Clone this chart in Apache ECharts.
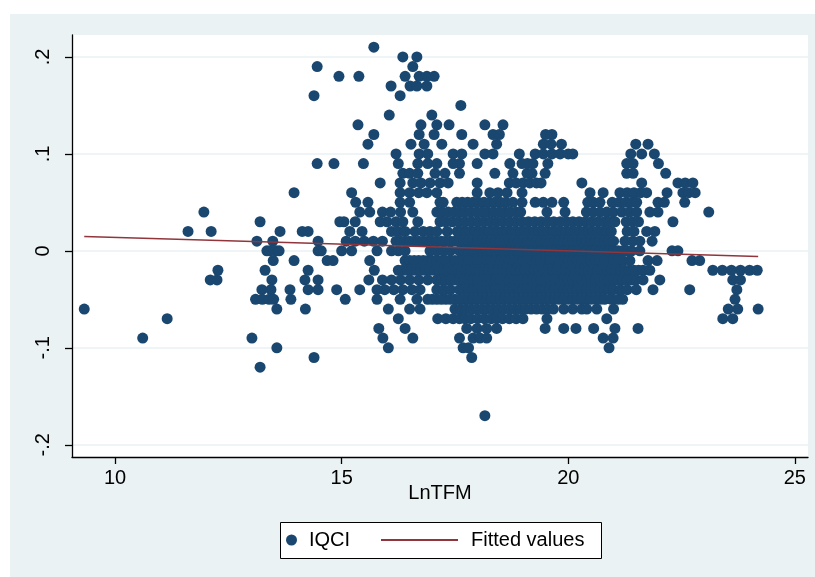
<!DOCTYPE html>
<html>
<head>
<meta charset="utf-8">
<script src="https://cdn.jsdelivr.net/npm/echarts@6/dist/echarts.min.js"></script>
<style>
html, body { margin: 0; padding: 0; background: #fff; }
#bg { position: absolute; left: 10px; top: 14px; width: 805px; height: 563px; background: #eaf2f3; }
#chart { position: absolute; left: 0; top: 0; width: 815px; height: 577px; }
</style>
</head>
<body>
<div id="bg"></div>
<div id="chart"></div>
<script>
// IQCI comes in steps of .01, so the points are kept row by row:
// iqciLevels[i] is the IQCI value, lntfmRows[i] the LnTFM values on that row
const iqciLevels = [0.21, 0.20, 0.19, 0.18, 0.17, 0.16, 0.15, 0.14, 0.13, 0.12, 0.11, 0.10,
  0.09, 0.08, 0.07, 0.06, 0.05, 0.04, 0.03, 0.02, 0.01, 0,
  -0.01, -0.02, -0.03, -0.04, -0.05, -0.06, -0.07, -0.08, -0.09, -0.10, -0.11, -0.12, -0.17];

const lntfmRows = [
  [15.71],
  [16.35, 16.66],
  [14.46, 16.57],
  [14.94, 15.38, 16.40, 16.71, 16.88, 17.04],
  [16.09, 16.51, 16.66, 16.88],
  [14.39, 16.29],
  [17.63],
  [16.05, 16.99],
  [15.36, 16.75, 17.10, 17.37, 18.16, 18.56],
  [15.71, 16.71, 17.04, 17.65, 18.34, 18.48, 19.50, 19.64],
  [15.58, 16.53, 16.82, 17.21, 17.90, 18.42, 19.45, 19.62, 19.85, 21.49, 21.76],
  [16.20, 16.71, 16.90, 17.46, 17.65, 18.16, 18.34, 18.92, 19.27, 19.45, 19.64, 19.82, 20.00, 20.10, 21.38, 21.62, 21.90],
  [14.46, 14.83, 15.48, 16.25, 16.68, 16.90, 17.10, 17.46, 17.60, 17.99, 18.71, 18.98, 19.10, 19.22, 19.55, 21.29, 21.43, 21.99],
  [16.35, 16.50, 16.68, 17.06, 17.28, 17.60, 18.38, 18.78, 19.09, 19.20, 19.49, 21.29, 21.43, 22.15],
  [15.85, 16.29, 16.57, 16.75, 16.95, 17.17, 17.35, 17.99, 18.70, 18.85, 19.00, 19.15, 19.30, 19.40, 20.30, 21.62, 22.42, 22.58, 22.75],
  [13.95, 15.22, 16.29, 16.50, 16.70, 16.88, 17.10, 17.99, 18.27, 18.45, 18.65, 18.98, 20.48, 20.77, 21.14, 21.30, 21.45, 21.60, 21.73, 22.18, 22.53, 22.66, 22.80],
  [15.31, 15.58, 16.29, 16.50, 17.17, 17.24, 17.54, 17.66, 17.78, 17.90, 18.02, 18.14, 18.26, 18.38, 18.50, 18.62, 18.78, 18.98, 19.27, 19.45, 19.64, 19.90, 20.43, 20.55, 20.70, 20.97, 21.12, 21.27, 21.40, 21.51, 21.98, 22.12, 22.57],
  [11.96, 15.40, 15.62, 15.90, 16.08, 16.30, 16.57, 17.10, 17.22, 17.35, 17.48, 17.60, 17.72, 17.85, 17.98, 18.10, 18.22, 18.35, 18.48, 18.60, 18.72, 18.85, 18.95, 19.53, 19.93, 20.40, 20.55, 20.70, 20.85, 20.99, 21.18, 21.35, 21.51, 21.80, 21.98, 23.10],
  [13.20, 14.96, 15.05, 15.30, 15.85, 16.00, 16.20, 16.35, 16.68, 17.17, 17.30, 17.44, 17.58, 17.72, 17.86, 18.00, 18.14, 18.28, 18.42, 18.56, 18.70, 18.84, 18.98, 19.12, 19.26, 19.40, 19.54, 19.68, 19.82, 19.96, 20.10, 20.24, 20.38, 20.52, 20.66, 20.80, 20.92, 21.03, 21.28, 21.42, 21.55, 22.31],
  [11.61, 12.12, 13.64, 14.13, 14.26, 15.18, 15.45, 16.10, 16.25, 16.40, 16.62, 16.80, 16.95, 17.10, 17.33, 17.55, 17.65, 17.75, 17.85, 17.95, 18.05, 18.15, 18.25, 18.35, 18.45, 18.55, 18.65, 18.75, 18.85, 18.95, 19.05, 19.15, 19.25, 19.35, 19.45, 19.55, 19.65, 19.75, 19.85, 19.95, 20.05, 20.15, 20.25, 20.35, 20.45, 20.55, 20.65, 20.75, 20.85, 20.95, 21.30, 21.45, 21.73, 21.91],
  [13.13, 13.48, 14.48, 15.10, 15.30, 15.50, 15.70, 15.90, 16.2, 16.3, 16.4, 16.5, 16.6, 16.7, 16.8, 16.9, 17.0, 17.1, 17.2, 17.3, 17.4, 17.5, 17.6, 17.7, 17.8, 17.9, 18.0, 18.1, 18.2, 18.3, 18.4, 18.5, 18.6, 18.7, 18.8, 18.9, 19.0, 19.1, 19.2, 19.3, 19.4, 19.5, 19.6, 19.7, 19.8, 19.9, 20.0, 20.1, 20.2, 20.3, 20.4, 20.5, 20.6, 20.7, 20.8, 20.9, 21.0, 21.25, 21.42, 21.58, 21.85],
  [13.35, 13.42, 13.55, 13.62, 14.48, 14.55, 15.00, 15.22, 15.78, 16.10, 16.25, 16.40, 16.95, 17.10, 17.25, 17.40, 17.6, 17.7, 17.8, 17.9, 18.0, 18.1, 18.2, 18.3, 18.4, 18.5, 18.6, 18.7, 18.8, 18.9, 19.0, 19.1, 19.2, 19.3, 19.4, 19.5, 19.6, 19.7, 19.8, 19.9, 20.0, 20.1, 20.2, 20.3, 20.4, 20.5, 20.6, 20.7, 20.8, 20.9, 21.0, 21.1, 21.2, 21.3, 21.4, 21.58, 22.29, 22.42],
  [13.49, 13.95, 14.68, 14.81, 15.62, 16.4, 16.5, 16.6, 16.7, 16.8, 16.9, 17.0, 17.1, 17.2, 17.3, 17.4, 17.5, 17.6, 17.7, 17.8, 17.9, 18.0, 18.1, 18.2, 18.3, 18.4, 18.5, 18.6, 18.7, 18.8, 18.9, 19.0, 19.1, 19.2, 19.3, 19.4, 19.5, 19.6, 19.7, 19.8, 19.9, 20.0, 20.1, 20.2, 20.3, 20.4, 20.5, 20.6, 20.7, 20.8, 20.9, 21.0, 21.1, 21.2, 21.36, 21.76, 21.96, 22.73, 22.90],
  [12.27, 13.31, 14.26, 15.72, 16.25, 16.35, 16.45, 16.55, 16.65, 16.75, 16.85, 16.95, 17.05, 17.15, 17.25, 17.35, 17.45, 17.55, 17.65, 17.75, 17.85, 17.95, 18.05, 18.15, 18.25, 18.35, 18.45, 18.55, 18.65, 18.75, 18.85, 18.95, 19.05, 19.15, 19.25, 19.35, 19.45, 19.55, 19.65, 19.75, 19.85, 19.95, 20.05, 20.15, 20.25, 20.35, 20.45, 20.55, 20.65, 20.75, 20.85, 20.95, 21.05, 21.15, 21.25, 21.35, 21.45, 21.55, 21.65, 21.80, 23.19, 23.40, 23.60, 23.80, 24.00, 24.17],
  [12.10, 12.25, 13.46, 14.19, 14.48, 15.60, 15.90, 16.10, 16.30, 16.50, 16.70, 16.90, 17.1, 17.2, 17.3, 17.4, 17.5, 17.6, 17.7, 17.8, 17.9, 18.0, 18.1, 18.2, 18.3, 18.4, 18.5, 18.6, 18.7, 18.8, 18.9, 19.0, 19.1, 19.2, 19.3, 19.4, 19.5, 19.6, 19.7, 19.8, 19.9, 20.0, 20.1, 20.2, 20.3, 20.4, 20.5, 20.6, 20.7, 20.8, 20.9, 21.0, 21.1, 21.2, 21.3, 21.4, 21.5, 21.65, 22.02, 23.63, 23.80],
  [13.24, 13.44, 13.86, 14.26, 14.48, 14.89, 15.40, 15.78, 15.95, 16.15, 16.35, 16.55, 16.73, 17.10, 17.25, 17.40, 17.6, 17.7, 17.8, 17.9, 18.0, 18.1, 18.2, 18.3, 18.4, 18.5, 18.6, 18.7, 18.8, 18.9, 19.0, 19.1, 19.2, 19.3, 19.4, 19.5, 19.6, 19.7, 19.8, 19.9, 20.0, 20.1, 20.2, 20.3, 20.4, 20.5, 20.6, 20.7, 20.8, 20.9, 21.0, 21.15, 21.30, 21.50, 21.87, 22.68, 23.72],
  [13.10, 13.25, 13.40, 13.50, 13.88, 15.08, 15.78, 16.29, 16.66, 16.90, 17.0, 17.1, 17.2, 17.3, 17.4, 17.5, 17.6, 17.7, 17.8, 17.9, 18.0, 18.1, 18.2, 18.3, 18.4, 18.5, 18.6, 18.7, 18.8, 18.9, 19.0, 19.1, 19.2, 19.3, 19.4, 19.5, 19.6, 19.7, 19.8, 19.9, 20.0, 20.1, 20.2, 20.3, 20.4, 20.5, 20.6, 20.7, 20.8, 20.95, 21.10, 21.20, 23.68],
  [9.32, 13.57, 14.20, 16.03, 16.50, 16.73, 17.50, 17.62, 17.74, 17.86, 17.98, 18.10, 18.22, 18.34, 18.46, 18.58, 18.70, 18.82, 18.94, 19.06, 19.18, 19.30, 19.42, 19.54, 19.67, 19.90, 20.10, 20.30, 20.41, 20.63, 21.00, 23.53, 23.74, 24.19],
  [11.15, 16.25, 17.12, 17.30, 17.46, 17.60, 17.72, 17.85, 18.00, 18.15, 18.30, 18.42, 18.55, 18.70, 18.85, 19.00, 19.53, 20.85, 23.41, 23.63],
  [15.82, 16.40, 17.76, 17.99, 18.20, 18.42, 19.49, 19.90, 20.17, 20.56, 21.03, 21.54],
  [10.61, 13.02, 15.91, 16.57, 17.60, 17.90, 18.05, 18.20, 20.77, 20.99],
  [13.57, 16.03, 17.68, 17.80, 20.90],
  [14.39, 17.87],
  [13.20],
  [18.16]
];

// fitted values at the smallest and largest LnTFM
const fitX = [9.32, 24.19];
const fitY = [0.0148, -0.0059];

const xTicks = [10, 15, 20, 25];
const yTicks = [-0.2, -0.1, 0, 0.1, 0.2];
const yTickLabels = ['-.2', '-.1', '0', '.1', '.2'];

const iqciPoints = [];
lntfmRows.forEach(function (row, i) {
  row.forEach(function (x) { iqciPoints.push([x, iqciLevels[i]]); });
});
const fitPoints = fitX.map(function (x, i) { return [x, fitY[i]]; });

const font = "'Liberation Sans', Arial, Helvetica, sans-serif";

const chart = echarts.init(document.getElementById('chart'));
chart.setOption({
  backgroundColor: 'transparent',
  animation: false,
  textStyle: { fontFamily: font },
  grid: {
    left: 72, right: 7, top: 35, bottom: 120,
    show: true, backgroundColor: '#fff', borderWidth: 0,
    outerBoundsMode: 'none'
  },
  xAxis: {
    type: 'value',
    min: 9.05, max: 25.29,
    name: 'LnTFM',
    nameLocation: 'middle',
    nameGap: 26,
    nameMoveOverlap: false,
    nameTextStyle: { color: '#000', fontSize: 20, fontFamily: font },
    axisLine: { show: true, onZero: false, lineStyle: { color: '#000', width: 1.3 } },
    axisTick: { show: true, length: 7, customValues: xTicks, lineStyle: { color: '#000', width: 1.3 } },
    axisLabel: { customValues: xTicks, color: '#000', fontSize: 20, margin: 11, fontFamily: font },
    splitLine: { show: false }
  },
  yAxis: {
    type: 'value',
    min: -0.2126, max: 0.2226,
    axisLine: { show: true, onZero: false, lineStyle: { color: '#000', width: 1.3 } },
    axisTick: { show: true, length: 7, customValues: yTicks, lineStyle: { color: '#000', width: 1.3 } },
    axisLabel: {
      customValues: yTicks, rotate: 90, color: '#000', fontSize: 20, margin: 19, fontFamily: font,
      formatter: function (v) {
        for (let i = 0; i < yTicks.length; i++) {
          if (Math.abs(yTicks[i] - v) < 1e-9) return yTickLabels[i];
        }
        return '';
      }
    },
    splitLine: { show: true, lineStyle: { color: '#eaf2f3', width: 1.5 } }
  },
  legend: [{
    data: ['IQCI'],
    left: 286, top: 530,
    itemWidth: 11, itemHeight: 11, padding: 0,
    textStyle: { color: '#000', fontSize: 20, fontFamily: font, padding: [0, 0, 0, 7] }
  }, {
    data: [{ name: 'Fitted values', icon: 'rect' }],
    left: 381, top: 530,
    itemWidth: 77, itemHeight: 2, padding: 0,
    textStyle: { color: '#000', fontSize: 20, fontFamily: font, padding: [0, 0, 0, 8] }
  }],
  graphic: [{
    type: 'rect',
    left: 280, top: 522,
    shape: { width: 321, height: 36 },
    style: { fill: '#fff', stroke: '#000', lineWidth: 1 }
  }],
  series: [{
    name: 'IQCI',
    type: 'scatter',
    data: iqciPoints,
    symbol: 'circle',
    symbolSize: 11,
    itemStyle: { color: '#1a476f', opacity: 1 },
    z: 2
  }, {
    name: 'Fitted values',
    type: 'line',
    data: fitPoints,
    symbol: 'none',
    showSymbol: false,
    lineStyle: { color: '#90353b', width: 1.5 },
    itemStyle: { color: '#90353b' },
    z: 3
  }]
});
</script>
</body>
</html>
